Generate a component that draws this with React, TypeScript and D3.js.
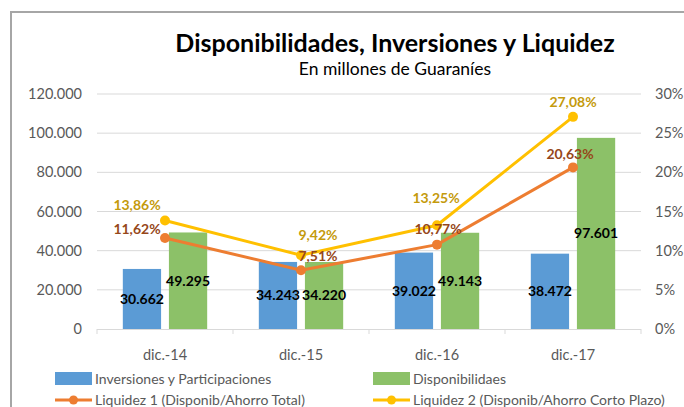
import React from 'react';
import * as d3 from 'd3';

const categories = ['dic.-14', 'dic.-15', 'dic.-16', 'dic.-17'];
const inversiones = [30662, 34243, 39022, 38472];
const disponibilidades = [49295, 34220, 49143, 97601];
const liquidez1 = [11.62, 7.51, 10.77, 20.63];
const liquidez2 = [13.86, 9.42, 13.25, 27.08];
const leftTicks = [0, 20000, 40000, 60000, 80000, 100000, 120000];
const rightTicks = [0, 5, 10, 15, 20, 25, 30];

// label nudges for the line data labels (dx, dy from the point)
const liq1LabelOffset = [[-28, -9], [17, -14], [1, -16], [-3, -13]];
const liq2LabelOffset = [[-28, -15], [17, -20], [-1, -27], [0, -15]];

const fmtThousands = (v: number) => d3.format(',')(v).replace(/,/g, '.');
const fmtPct = (v: number) => v.toFixed(2).replace('.', ',') + '%';

const font = 'Lato, "Open Sans", sans-serif';
const BLUE = '#5B9BD5';
const GREEN = '#8CC168';
const ORANGE = '#ED7D31';
const YELLOW = '#FFC000';

const App = () => {
  const width = 684;
  const height = 407;
  const margin = { top: 94, right: 43, bottom: 78, left: 97 };

  const x = d3
    .scaleBand()
    .domain(categories)
    .range([margin.left, width - margin.right]);

  const inner = d3
    .scaleBand()
    .domain(['inv', 'disp'])
    .range([0, x.bandwidth()])
    .paddingInner(0.17)
    .paddingOuter(0.56);

  const y = d3
    .scaleLinear()
    .domain([0, 120000])
    .range([height - margin.bottom, margin.top]);

  const yPct = d3
    .scaleLinear()
    .domain([0, 30])
    .range([height - margin.bottom, margin.top]);

  const cx = (c: string) => (x(c) as number) + x.bandwidth() / 2;

  const line1 = d3
    .line<number>()
    .x((_, i) => cx(categories[i]))
    .y(d => yPct(d));

  const bottom = height - margin.bottom;

  return (
    <div style={{ position: 'fixed', left: 0, top: 0 }}>
      <svg width={width} height={height} viewBox={`0 0 ${width} ${height}`} style={{ display: 'block', background: '#fff' }}>
        <rect x={11} y={12} width={700} height={420} fill="#fff" stroke="#a6a6a6" strokeWidth={2} />

        <text x={395} y={52} textAnchor="middle" fontFamily={font} fontWeight="bold" fontSize={25} fill="#000">
          Disponibilidades, Inversiones y Liquidez
        </text>
        <text x={395} y={75} textAnchor="middle" fontFamily={font} fontSize={17.5} fill="#000">
          En millones de Guaraníes
        </text>

        {leftTicks.map(t => (
          <g key={`g-${t}`}>
            {t > 0 && (
              <line x1={margin.left} x2={width - margin.right} y1={y(t)} y2={y(t)} stroke="#d9d9d9" strokeWidth={1} />
            )}
            <text x={82} y={y(t)} dy="0.35em" textAnchor="end" fontFamily={font} fontSize={14.5} fill="#595959">
              {fmtThousands(t)}
            </text>
          </g>
        ))}

        {rightTicks.map(t => (
          <text key={`r-${t}`} x={655} y={yPct(t)} dy="0.35em" fontFamily={font} fontSize={14.5} fill="#595959">
            {t}%
          </text>
        ))}

        {categories.map((c, i) => (
          <g key={`bars-${c}`}>
            <rect
              x={(x(c) as number) + (inner('inv') as number)}
              y={y(inversiones[i])}
              width={inner.bandwidth()}
              height={bottom - y(inversiones[i])}
              fill={BLUE}
            />
            <rect
              x={(x(c) as number) + (inner('disp') as number)}
              y={y(disponibilidades[i])}
              width={inner.bandwidth()}
              height={bottom - y(disponibilidades[i])}
              fill={GREEN}
            />
          </g>
        ))}

        <line x1={margin.left} x2={width - margin.right} y1={bottom + 0.5} y2={bottom + 0.5} stroke="#d9d9d9" strokeWidth={1} />
        {[...categories.map(c => x(c) as number), width - margin.right].map((t, i) => (
          <line key={`tick-${i}`} x1={t} x2={t} y1={bottom} y2={bottom + 5} stroke="#d9d9d9" strokeWidth={1} />
        ))}
        {categories.map(c => (
          <text key={`xl-${c}`} x={cx(c)} y={355} textAnchor="middle" dy="0.35em" fontFamily={font} fontSize={14.5} fill="#595959">
            {c}
          </text>
        ))}

        {categories.map((c, i) => (
          <g key={`bl-${c}`} fontFamily={font} fontWeight="bold" fontSize={14} fill="#000" textAnchor="middle">
            <text
              x={(x(c) as number) + (inner('inv') as number) + inner.bandwidth() / 2}
              y={(y(inversiones[i]) + bottom) / 2}
              dy="0.35em"
            >
              {fmtThousands(inversiones[i])}
            </text>
            <text
              x={(x(c) as number) + (inner('disp') as number) + inner.bandwidth() / 2}
              y={(y(disponibilidades[i]) + bottom) / 2}
              dy="0.35em"
            >
              {fmtThousands(disponibilidades[i])}
            </text>
          </g>
        ))}

        <path d={line1(liquidez1) || ''} fill="none" stroke={ORANGE} strokeWidth={3} strokeLinejoin="round" />
        {liquidez1.map((d, i) => (
          <circle key={`p1-${i}`} cx={cx(categories[i])} cy={yPct(d)} r={5} fill={ORANGE} />
        ))}
        <path d={line1(liquidez2) || ''} fill="none" stroke={YELLOW} strokeWidth={3} strokeLinejoin="round" />
        {liquidez2.map((d, i) => (
          <circle key={`p2-${i}`} cx={cx(categories[i])} cy={yPct(d)} r={5} fill={YELLOW} />
        ))}

        {liquidez1.map((d, i) => (
          <text
            key={`l1-${i}`}
            x={cx(categories[i]) + liq1LabelOffset[i][0]}
            y={yPct(d) + liq1LabelOffset[i][1]}
            dy="0.35em"
            textAnchor="middle"
            fontFamily={font}
            fontWeight="bold"
            fontSize={14}
            fill="#96471A"
          >
            {fmtPct(d)}
          </text>
        ))}
        {liquidez2.map((d, i) => (
          <text
            key={`l2-${i}`}
            x={cx(categories[i]) + liq2LabelOffset[i][0]}
            y={yPct(d) + liq2LabelOffset[i][1]}
            dy="0.35em"
            textAnchor="middle"
            fontFamily={font}
            fontWeight="bold"
            fontSize={14}
            fill="#C49A0C"
          >
            {fmtPct(d)}
          </text>
        ))}

        <g fontFamily={font} fontSize={14} fill="#595959">
          <rect x={55} y={372} width={37} height={13} fill={BLUE} />
          <text x={95} y={379} dy="0.35em">Inversiones y Participaciones</text>
          <rect x={373} y={372} width={37} height={13} fill={GREEN} />
          <text x={413} y={379} dy="0.35em">Disponibilidaes</text>
          <line x1={55} x2={92} y1={400} y2={400} stroke={ORANGE} strokeWidth={3} />
          <circle cx={73.5} cy={400} r={4.5} fill={ORANGE} />
          <text x={95} y={400} dy="0.35em">Liquidez 1 (Disponib/Ahorro Total)</text>
          <line x1={373} x2={410} y1={400} y2={400} stroke={YELLOW} strokeWidth={3} />
          <circle cx={391.5} cy={400} r={4.5} fill={YELLOW} />
          <text x={413} y={400} dy="0.35em">Liquidez 2 (Disponib/Ahorro Corto Plazo)</text>
        </g>
      </svg>
    </div>
  );
};

export default App;
